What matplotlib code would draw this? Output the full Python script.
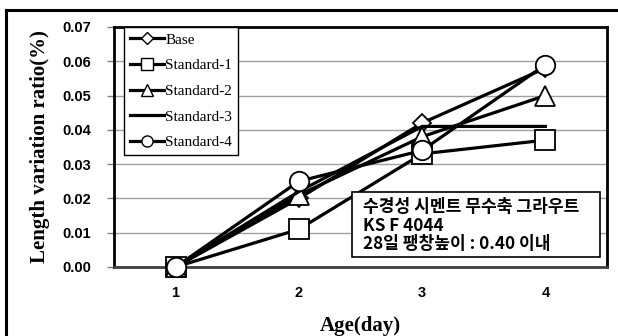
import matplotlib
matplotlib.use("Agg")
import matplotlib.pyplot as plt
from matplotlib.lines import Line2D
from matplotlib.patches import Rectangle

# Length variation ratio of grout mixes over 4 days
ages = [1, 2, 3, 4]
age_labels = ["1", "2", "3", "4"]
series_names = ["Base", "Standard-1", "Standard-2", "Standard-3", "Standard-4"]
base = [0.0, 0.020, 0.042, 0.058]
standard_1 = [0.0, 0.011, 0.033, 0.037]
standard_2 = [0.0, 0.021, 0.038, 0.050]
standard_3 = [0.0, 0.022, 0.041, 0.041]
standard_4 = [0.0, 0.025, 0.034, 0.059]
y_ticks = [0.00, 0.01, 0.02, 0.03, 0.04, 0.05, 0.06, 0.07]
note_lines = ["수경성 시멘트 무수축 그라우트", "KS F 4044", "28일 팽창높이 : 0.40 이내"]

serif = ["Liberation Serif", "DejaVu Serif"]
sans = ["Liberation Sans", "DejaVu Sans"]
markers = ["D", "s", "^", None, "o"]
marker_sizes = [9, 14, 14, 0, 14]

W, H = 618, 336
fig = plt.figure(figsize=(W / 100, H / 100), dpi=100)
ax = fig.add_axes([114 / W, 1 - 267 / H, (607 - 114) / W, (267 - 27) / H])

# outer frame of the figure (left and top only, as in the source image)
fig.add_artist(Line2D([6 / W, 6 / W], [0, 1 - 10 / H], transform=fig.transFigure, color="black", lw=2.2))
fig.add_artist(Line2D([6 / W, 1], [1 - 10 / H, 1 - 10 / H], transform=fig.transFigure, color="black", lw=2.2))

all_series = [base, standard_1, standard_2, standard_3, standard_4]
for name, vals, mk, ms in zip(series_names, all_series, markers, marker_sizes):
    ax.plot(ages, vals, color="black", lw=2.3, marker=mk, markersize=ms,
            markerfacecolor="white", markeredgecolor="black", markeredgewidth=1.3,
            label=name, clip_on=False, zorder=3)

ax.set_xlim(0.5, 4.5)
ax.set_ylim(0, 0.07)
ax.set_xticks(ages)
ax.set_xticklabels(age_labels)
ax.set_yticks(y_ticks)
ax.set_yticklabels(["%.2f" % v for v in y_ticks])
ax.yaxis.grid(True, color="#a0a0a0", lw=1.0)
ax.set_axisbelow(True)
ax.tick_params(axis="y", length=5, width=1, color="#808080", pad=11.5)
ax.tick_params(axis="x", length=0, pad=14)
for lab in ax.get_xticklabels() + ax.get_yticklabels():
    lab.set_fontweight("bold")
    lab.set_fontsize(10.5)
    lab.set_family(sans)
for sp in ax.spines.values():
    sp.set_linewidth(2.0)
    sp.set_color("black")
ax.spines["bottom"].set_color("#404040")

ax.set_xlabel("Age(day)", family=serif, fontweight="bold", fontsize=15, labelpad=11)
ax.set_ylabel("Length variation ratio(%)", family=serif, fontweight="bold", fontsize=15, labelpad=9)

# legend, markers drawn smaller than on the lines
handles = []
for name, mk in zip(series_names, markers):
    handles.append(Line2D([], [], color="black", lw=2.3, marker=mk, markersize=8 if mk != "D" else 6,
                          markerfacecolor="white", markeredgecolor="black", markeredgewidth=1.0))
leg = ax.legend(handles, series_names, loc="upper left", bbox_to_anchor=(10 / 493, 1.0),
                borderaxespad=0, prop={"family": serif, "size": 11}, frameon=True, fancybox=False,
                framealpha=1, edgecolor="black", handlelength=2.2, handletextpad=0.1,
                labelspacing=0.78, borderpad=0.4)
leg.get_frame().set_linewidth(1.0)

# note box
fig.add_artist(Rectangle((352 / W, 1 - 257 / H), (600 - 352) / W, (257 - 192) / H,
                         transform=fig.transFigure, facecolor="white", edgecolor="black", lw=1.2, zorder=5))
fig.text(363 / W, 1 - 198 / H, "\n".join(note_lines),
         family=["Noto Sans CJK KR", "DejaVu Sans"], fontweight="bold", fontsize=12.3,
         va="top", ha="left", linespacing=1.05, zorder=6)

fig.savefig("out.png", dpi=100)
